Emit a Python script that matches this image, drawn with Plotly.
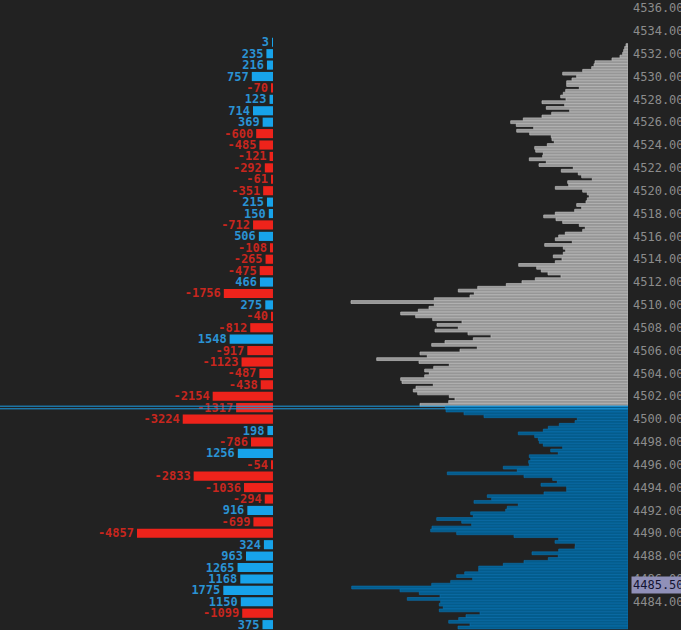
import plotly.graph_objects as go

# ---- data ----
delta_prices = list(range(4533, 4481, -1))
delta_values = [3, 235, 216, 757, -70, 123, 714, 369, -600, -485,
                -121, -292, -61, -351, 215, 150, -712, 506, -108, -265,
                -475, 466, -1756, 275, -40, -812, 1548, -917, -1123, -487,
                -438, -2154, -1317, -3224, 198, -786, 1256, -54, -2833, -1036,
                -294, 916, -699, -4857, 324, 963, 1265, 1168, 1775, 1150,
                -1099, 375]

vol_top = 4532.75
vol_step = 0.25
vol_values = [20, 33, 43, 53, 80, 160, 330, 340, 363, 453,
              653, 513, 560, 613, 613, 487, 623, 647, 673, 620,
              860, 633, 817, 583, 763, 860, 1047, 1173, 1117, 943,
              1113, 983, 767, 760, 737, 807, 933, 923, 847, 853,
              987, 817, 890, 547, 667, 497, 463, 357, 603, 593,
              727, 453, 407, 387, 407, 420, 513, 463, 533, 727,
              843, 720, 653, 487, 427, 453, 627, 693, 727, 557,
              833, 647, 623, 647, 747, 660, 727, 1093, 913, 867,
              800, 670, 927, 1060, 1217, 1503, 1697, 1537, 1580, 1937,
              2770, 1937, 1990, 2097, 2273, 2123, 1953, 1660, 1910, 1697,
              1930, 1600, 1370, 1547, 1830, 1963, 1507, 1680, 2080, 2007,
              2513, 2090, 1787, 1943, 2033, 1987, 2033, 2273, 2260, 1947,
              2120, 2147, 2103, 1787, 1730, 1793, 2080, 1827, 1820, 1640,
              1440, 507, 530, 687, 797, 847, 1097, 933, 897, 887,
              847, 653, 773, 697, 987, 973, 993, 987, 1247, 1107,
              1807, 1040, 753, 707, 870, 613, 613, 840, 1407, 1363,
              1540, 1097, 1207, 1223, 1573, 1547, 1913, 1663, 1563, 1960,
              1973, 1713, 1140, 693, 730, 527, 530, 693, 960, 697,
              797, 1040, 1247, 1493, 1493, 1633, 1713, 1553, 1773, 1963,
              2763, 2280, 2087, 1880, 2207, 1873, 1887, 1847, 1887, 1480,
              1620, 1693, 1793, 1580, 1700]
vol_prices = [vol_top - vol_step * i for i in range(len(vol_values))]
split_price = 4501.25          # grey at/above, blue below
marker_line_prices = [4501.13, 4500.90]
last_price = 4485.50

# ---- styles ----
BG = "#222222"
BLUE_BAR, RED_BAR = "#17a3ea", "#ee231b"
BLUE_TXT, RED_TXT = "#2a93d4", "#c8261e"
MONO = "DejaVu Sans Mono"

fig = go.Figure()

# volume profile (right side)
up_p = [p for p, v in zip(vol_prices, vol_values) if p >= split_price]
up_v = [v for p, v in zip(vol_prices, vol_values) if p >= split_price]
dn_p = [p for p, v in zip(vol_prices, vol_values) if p < split_price]
dn_v = [v for p, v in zip(vol_prices, vol_values) if p < split_price]

fig.add_trace(go.Bar(y=up_p, x=up_v, orientation="h", width=vol_step,
                     xaxis="x2", yaxis="y",
                     marker=dict(color="#969696", line=dict(color="#bdbdbd", width=0.7)),
                     hoverinfo="skip"))
fig.add_trace(go.Bar(y=dn_p, x=dn_v, orientation="h", width=vol_step,
                     xaxis="x2", yaxis="y",
                     marker=dict(color="#045c8c", line=dict(color="#0b74b4", width=0.6)),
                     hoverinfo="skip"))

# delta bars (left side), all drawn leftwards from a common base
d_len = [-abs(v) for v in delta_values]
d_col = [BLUE_BAR if v > 0 else RED_BAR for v in delta_values]
d_tcol = [BLUE_TXT if v > 0 else RED_TXT for v in delta_values]
fig.add_trace(go.Bar(y=delta_prices, x=d_len, orientation="h", width=0.8,
                     xaxis="x", yaxis="y",
                     marker=dict(color=d_col, line=dict(width=0)),
                     text=[str(v) for v in delta_values],
                     textposition="outside", constraintext="none",
                     cliponaxis=False,
                     textfont=dict(family=MONO, size=12, color=d_tcol, weight="bold"),
                     hoverinfo="skip"))

for lp in marker_line_prices:
    fig.add_shape(type="line", xref="paper", x0=0, x1=1, yref="y", y0=lp, y1=lp,
                  line=dict(color="#1c9ce2", width=1))

fig.add_annotation(xref="paper", x=1, xanchor="left", xshift=3, yref="y", y=last_price,
                   text=f"{last_price:.2f}", showarrow=False, align="left",
                   font=dict(family=MONO, size=12, color="#141432"),
                   bgcolor="#9090b8", borderpad=1, width=56)

fig.update_layout(
    width=681, height=630,
    margin=dict(l=0, r=53, t=0, b=0, autoexpand=False),
    paper_bgcolor=BG, plot_bgcolor=BG,
    showlegend=False, barmode="overlay",
    xaxis=dict(range=[-9750, 12680], visible=False, fixedrange=True, automargin=False),
    xaxis2=dict(range=[6280, 0], overlaying="x", visible=False, fixedrange=True,
                automargin=False),
    yaxis=dict(range=[4481.53, 4536.70], side="right", tickmode="linear",
               tick0=4482, dtick=2, tickformat=".2f", showgrid=False,
               zeroline=False, showline=False, ticks="", ticklabelstandoff=4,
               automargin=False, fixedrange=True,
               tickfont=dict(family=MONO, size=12, color="#8c8c8c")),
)

fig.write_html("out.html", config={"displayModeBar": False},
               post_script="document.body.style.margin='0';document.body.style.background='#222222';")
